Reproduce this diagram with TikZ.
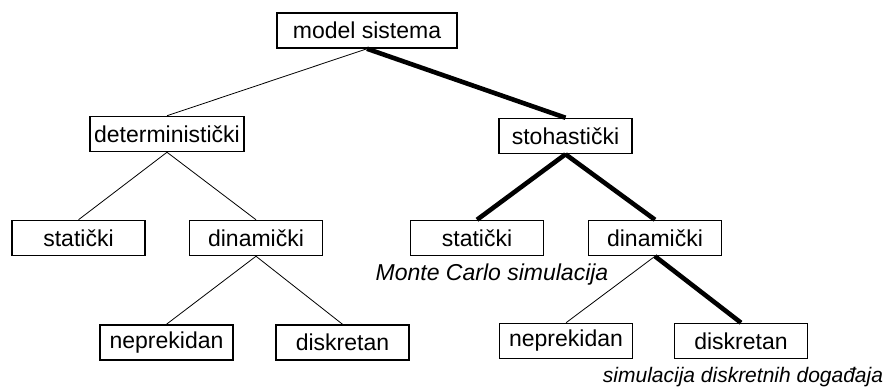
\documentclass[tikz,border=0pt]{standalone}
\usepackage{fontspec}
\setmainfont{Liberation Sans}

\tikzset{
    klasa/.style={draw, line width=1.5pt, minimum width=133pt, minimum height=35pt,
        inner xsep=4pt, font=\fontsize{23}{26}\selectfont},
    tanka/.style={line width=0.8pt},
    debela/.style={line width=4.6pt},
    opis/.style={font=\fontsize{23}{26}\selectfont\itshape}
}

\begin{document}
\begin{tikzpicture}[x=1pt, y=-1pt]
    % Frame
    \useasboundingbox (0,0) rectangle (889,390);

    % Boxes
    \node[klasa, minimum width=180pt] (model) at (367,30.5) {model sistema};
    \node[klasa] (det) at (167,134) {deterministički};
    \node[klasa] (stoh) at (565.5,136) {stohastički};

    \node[klasa] (dstat) at (78.5,238) {statički};
    \node[klasa] (ddin) at (256,238) {dinamički};
    \node[klasa] (sstat) at (477,238) {statički};
    \node[klasa] (sdin) at (655,238) {dinamički};

    \node[klasa] (dnep) at (166.5,342.5) {neprekidan};
    \node[klasa] (ddis) at (342.5,342.5) {diskretan};
    \node[klasa] (snep) at (566,341) {neprekidan};
    \node[klasa] (sdis) at (741,341) {diskretan};

    % Thin branches
    \draw[tanka] (model.south) -- (det.north);
    \draw[tanka] (det.south) -- (dstat.north);
    \draw[tanka] (det.south) -- (ddin.north);
    \draw[tanka] (ddin.south) -- (dnep.north);
    \draw[tanka] (ddin.south) -- (ddis.north);
    \draw[tanka] (sdin.south) -- (snep.north);

    % Thick branches
    \draw[debela] (model.south) -- (stoh.north);
    \draw[debela] (stoh.south) -- (sstat.north);
    \draw[debela] (stoh.south) -- (sdin.north);
    \draw[debela] (sdin.south) -- (sdis.north);

    % Labels
    \node[opis] (mc) at (492,275) {Monte Carlo simulacija};
    \node[opis, font=\fontsize{21}{24}\selectfont\itshape] (sdd) at (743,377) {simulacija diskretnih događaja};
\end{tikzpicture}
\end{document}
